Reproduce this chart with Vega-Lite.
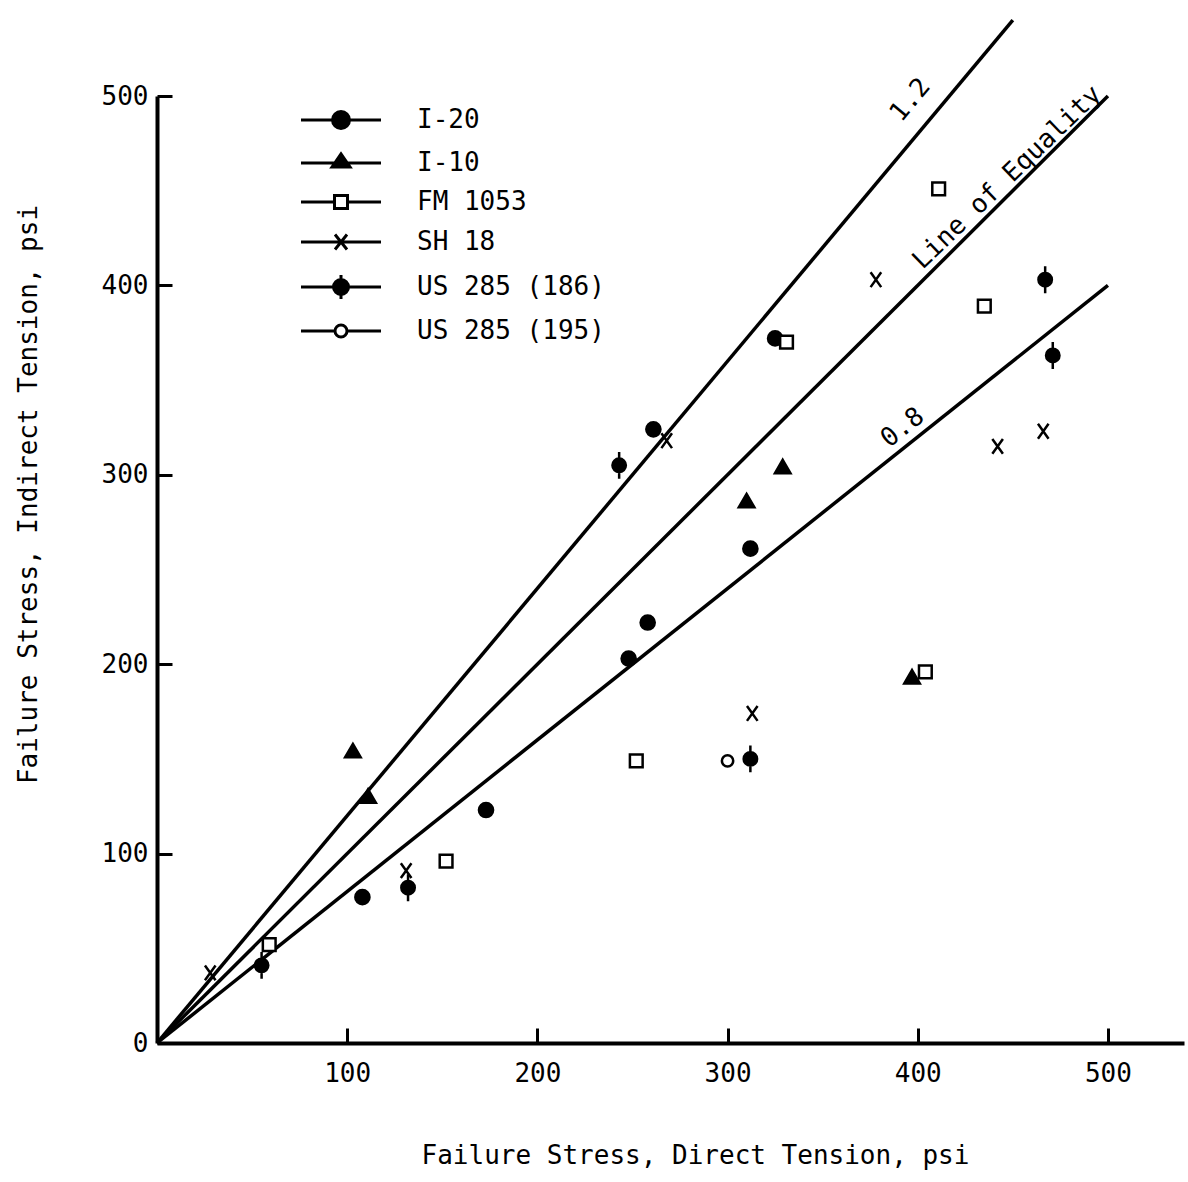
{
  "$schema": "https://vega.github.io/schema/vega-lite/v6.json",
  "width": 1027,
  "height": 947,
  "autosize": {"type": "none"},
  "padding": {"left": 157, "top": 96, "right": 4, "bottom": 139},
  "background": "white",
  "config": {
    "view": {"stroke": null},
    "font": "DejaVu Sans Mono",
    "axis": {
      "domainColor": "black", "domainWidth": 4, "tickColor": "black", "tickWidth": 3,
      "tickSize": -15, "labelFont": "DejaVu Sans Mono", "labelFontSize": 26, "labelColor": "black",
      "titleFont": "DejaVu Sans Mono", "titleFontSize": 26, "titleFontWeight": "normal", "titleColor": "black",
      "grid": false
    }
  },
  "datasets": {
    "points": [
      {"road": "I-20", "direct": 108, "indirect": 77},
      {"road": "I-20", "direct": 173, "indirect": 123},
      {"road": "I-20", "direct": 248, "indirect": 203},
      {"road": "I-20", "direct": 258, "indirect": 222},
      {"road": "I-20", "direct": 312, "indirect": 261},
      {"road": "I-20", "direct": 261, "indirect": 324},
      {"road": "I-20", "direct": 325, "indirect": 372},
      {"road": "I-10", "direct": 103, "indirect": 154},
      {"road": "I-10", "direct": 111, "indirect": 130},
      {"road": "I-10", "direct": 310, "indirect": 286},
      {"road": "I-10", "direct": 329, "indirect": 304},
      {"road": "I-10", "direct": 397, "indirect": 193},
      {"road": "FM 1053", "direct": 59, "indirect": 52},
      {"road": "FM 1053", "direct": 152, "indirect": 96},
      {"road": "FM 1053", "direct": 252, "indirect": 149},
      {"road": "FM 1053", "direct": 331, "indirect": 370},
      {"road": "FM 1053", "direct": 411, "indirect": 451},
      {"road": "FM 1053", "direct": 404, "indirect": 196},
      {"road": "FM 1053", "direct": 435, "indirect": 389},
      {"road": "SH 18", "direct": 28, "indirect": 37},
      {"road": "SH 18", "direct": 131, "indirect": 91},
      {"road": "SH 18", "direct": 268, "indirect": 318},
      {"road": "SH 18", "direct": 313, "indirect": 174},
      {"road": "SH 18", "direct": 378, "indirect": 403},
      {"road": "SH 18", "direct": 442, "indirect": 315},
      {"road": "SH 18", "direct": 466, "indirect": 323},
      {"road": "US 285 (186)", "direct": 55, "indirect": 41},
      {"road": "US 285 (186)", "direct": 132, "indirect": 82},
      {"road": "US 285 (186)", "direct": 243, "indirect": 305},
      {"road": "US 285 (186)", "direct": 312, "indirect": 150},
      {"road": "US 285 (186)", "direct": 467, "indirect": 403},
      {"road": "US 285 (186)", "direct": 471, "indirect": 363},
      {"road": "US 285 (195)", "direct": 300, "indirect": 149}
    ],
    "lines": [
      {"ratio": "1.2", "direct": 0, "indirect": 0},
      {"ratio": "1.2", "direct": 450, "indirect": 540},
      {"ratio": "1.0", "direct": 0, "indirect": 0},
      {"ratio": "1.0", "direct": 500, "indirect": 500},
      {"ratio": "0.8", "direct": 0, "indirect": 0},
      {"ratio": "0.8", "direct": 500, "indirect": 400}
    ],
    "notes": [
      {"label": "1.2", "direct": 396, "indirect": 498},
      {"label": "Line of Equality", "direct": 447, "indirect": 457},
      {"label": "0.8", "direct": 392, "indirect": 325}
    ]
  },
  "layer": [
    {
      "data": {"name": "lines"},
      "mark": {"type": "line", "color": "black", "strokeWidth": 3.5, "clip": false},
      "encoding": {
        "x": {"field": "direct", "type": "quantitative", "scale": {"domain": [0, 540], "nice": false},
          "axis": {"values": [100, 200, 300, 400, 500], "labelPadding": 32, "title": "Failure Stress, Direct Tension, psi", "titleX": 538, "titleY": 112, "titleBaseline": "middle"}},
        "y": {"field": "indirect", "type": "quantitative", "scale": {"domain": [0, 500], "nice": false},
          "axis": {"values": [0, 100, 200, 300, 400, 500], "labelPadding": 24, "title": "Failure Stress, Indirect Tension, psi", "titleX": -129, "titleY": 398, "titleBaseline": "middle"}},
        "detail": {"field": "ratio"}
      }
    },
    {
      "data": {"name": "notes"},
      "transform": [{"filter": "datum.label == '1.2'"}],
      "mark": {"type": "text", "angle": -50, "fontSize": 26, "font": "DejaVu Sans Mono", "color": "black"},
      "encoding": {
        "x": {"field": "direct", "type": "quantitative"},
        "y": {"field": "indirect", "type": "quantitative"},
        "text": {"field": "label"}
      }
    },
    {
      "data": {"name": "notes"},
      "transform": [{"filter": "datum.label == 'Line of Equality'"}],
      "mark": {"type": "text", "angle": -44, "fontSize": 26, "font": "DejaVu Sans Mono", "color": "black"},
      "encoding": {
        "x": {"field": "direct", "type": "quantitative"},
        "y": {"field": "indirect", "type": "quantitative"},
        "text": {"field": "label"}
      }
    },
    {
      "data": {"name": "notes"},
      "transform": [{"filter": "datum.label == '0.8'"}],
      "mark": {"type": "text", "angle": -38, "fontSize": 26, "font": "DejaVu Sans Mono", "color": "black"},
      "encoding": {
        "x": {"field": "direct", "type": "quantitative"},
        "y": {"field": "indirect", "type": "quantitative"},
        "text": {"field": "label"}
      }
    },
    {
      "data": {"name": "points"},
      "mark": {"type": "point", "filled": true, "stroke": "black", "size": 200, "opacity": 1},
      "encoding": {
        "x": {"field": "direct", "type": "quantitative"},
        "y": {"field": "indirect", "type": "quantitative"},
        "shape": {"field": "road", "type": "nominal", "legend": null,
          "scale": {"domain": ["I-20", "I-10", "FM 1053", "SH 18", "US 285 (186)", "US 285 (195)"],
            "range": ["circle",
              "M 0 -1.05 L 1.1 0.85 L -1.1 0.85 Z",
              "M -0.9 -0.9 L 0.9 -0.9 L 0.9 0.9 L -0.9 0.9 Z",
              "M -0.75 -1.05 L 0.75 1.05 M 0.75 -1.05 L -0.75 1.05",
              "M 0 -1.9 L 0 1.9 M 0.95 0 A 0.95 0.95 0 1 1 -0.95 0 A 0.95 0.95 0 1 1 0.95 0 Z",
              "M 0.8 0 A 0.8 0.8 0 1 1 -0.8 0 A 0.8 0.8 0 1 1 0.8 0 Z"]}},
        "fill": {"field": "road", "type": "nominal", "legend": null,
          "scale": {"domain": ["I-20", "I-10", "FM 1053", "SH 18", "US 285 (186)", "US 285 (195)"],
            "range": ["black", "black", "white", "black", "black", "white"]}},
        "strokeWidth": {"field": "road", "type": "nominal", "legend": null,
          "scale": {"domain": ["I-20", "I-10", "FM 1053", "SH 18", "US 285 (186)", "US 285 (195)"],
            "range": [2.5, 2.5, 3.2, 4.5, 3, 3.2]}}
      }
    },
    {
      "data": {"name": "points"},
      "transform": [{"filter": "false"}],
      "mark": {"type": "point", "filled": true, "stroke": "black", "strokeWidth": 3, "size": 400},
      "encoding": {
        "x": {"field": "direct", "type": "quantitative"},
        "y": {"field": "indirect", "type": "quantitative"},
        "shape": {"field": "road", "type": "nominal",
          "scale": {"domain": ["I-20", "I-10", "FM 1053", "SH 18", "US 285 (186)", "US 285 (195)"],
            "range": [
              "M -4 0 L 4 0 M 0.85 0 A 0.85 0.85 0 1 1 -0.85 0 A 0.85 0.85 0 1 1 0.85 0 Z",
              "M -4 0 L 4 0 M -0.9 0.4 L 0 -0.9 L 0.9 0.4 Z",
              "M -4 0 L -0.65 0 M 0.65 0 L 4 0 M -0.65 -0.65 L 0.65 -0.65 L 0.65 0.65 L -0.65 0.65 Z",
              "M -4 0 L 4 0 M -0.6 -0.75 L 0.6 0.75 M 0.6 -0.75 L -0.6 0.75",
              "M -4 0 L 4 0 M 0 -1.2 L 0 1.2 M 0.75 0 A 0.75 0.75 0 1 1 -0.75 0 A 0.75 0.75 0 1 1 0.75 0 Z",
              "M -4 0 L -0.6 0 M 0.6 0 L 4 0 M 0.6 0 A 0.6 0.6 0 1 1 -0.6 0 A 0.6 0.6 0 1 1 0.6 0 Z"]},
          "legend": {"orient": "none", "legendX": 171, "legendY": 11, "title": null, "padding": 0,
            "symbolSize": 400, "symbolStrokeWidth": 3, "symbolStrokeColor": "black", "symbolOpacity": 1,
            "labelFont": "DejaVu Sans Mono", "labelFontSize": 26, "labelColor": "black", "labelOffset": 63, "labelLimit": 400, "rowPadding": 13,
            "encode": {"symbols": {"update": {"stroke": {"value": "black"}, "strokeWidth": {"value": 3}}}}}},
        "fill": {"field": "road", "type": "nominal",
          "scale": {"domain": ["I-20", "I-10", "FM 1053", "SH 18", "US 285 (186)", "US 285 (195)"],
            "range": ["black", "black", "white", "black", "black", "white"]},
          "legend": {"orient": "none", "legendX": 171, "legendY": 11, "title": null, "padding": 0,
            "symbolSize": 400, "symbolStrokeWidth": 3, "symbolStrokeColor": "black", "symbolOpacity": 1,
            "labelFont": "DejaVu Sans Mono", "labelFontSize": 26, "labelColor": "black", "labelOffset": 63, "labelLimit": 400, "rowPadding": 13,
            "encode": {"symbols": {"update": {"stroke": {"value": "black"}, "strokeWidth": {"value": 3}}}}}}
      }
    }
  ],
  "resolve": {"scale": {"shape": "independent", "fill": "independent", "strokeWidth": "independent"}, "legend": {"shape": "independent", "fill": "independent"}}
}
